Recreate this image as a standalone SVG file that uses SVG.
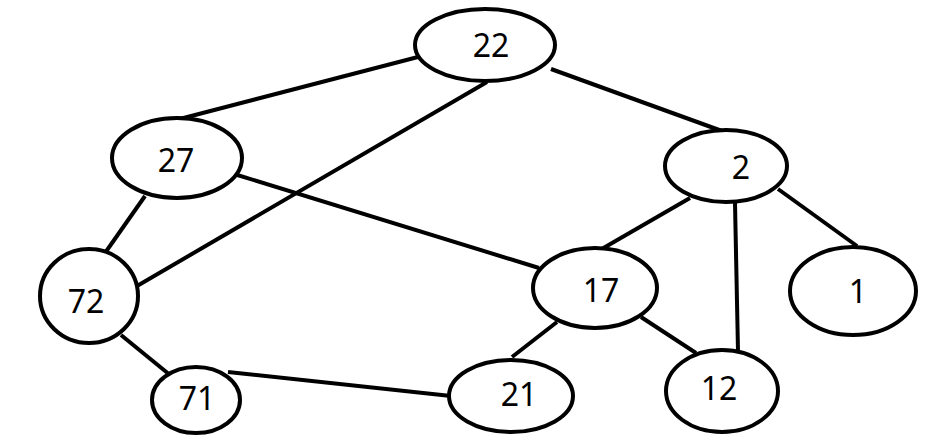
<svg xmlns="http://www.w3.org/2000/svg" width="940" height="440" viewBox="0 0 940 440">
<style>
.n ellipse{fill:#fff;stroke:#000;stroke-width:4}
.n text{font-family:"Noto Sans","Open Sans",sans-serif;font-size:32px;fill:#000;text-anchor:middle}
#edges line{stroke:#000;stroke-width:4}
</style>
<rect width="940" height="440" fill="#fff"/>
<g id="edges">
<line x1="418" y1="57" x2="172" y2="121"/>
<line x1="487" y1="82" x2="137" y2="286"/>
<line x1="551" y1="69" x2="722" y2="131"/>
<line x1="145" y1="196" x2="105" y2="253"/>
<line x1="234" y1="174" x2="539" y2="268"/>
<line x1="690" y1="198" x2="600" y2="250"/>
<line x1="735" y1="203" x2="738" y2="351"/>
<line x1="778" y1="189" x2="857" y2="246"/>
<line x1="557" y1="322" x2="512" y2="357"/>
<line x1="641" y1="317" x2="696" y2="353"/>
<line x1="121" y1="335" x2="170" y2="375"/>
<line x1="228" y1="372" x2="451" y2="396"/>
</g>
<g id="n22" class="n"><ellipse cx="485" cy="45" rx="70" ry="36"/><text x="491" y="57">22</text></g>
<g id="n27" class="n"><ellipse cx="177" cy="158" rx="65" ry="40"/><text x="176" y="172">27</text></g>
<g id="n2" class="n"><ellipse cx="726" cy="166" rx="61" ry="36"/><text x="741" y="179">2</text></g>
<g id="n72" class="n"><ellipse cx="89" cy="296" rx="49" ry="47"/><text x="86" y="313">72</text></g>
<g id="n17" class="n"><ellipse cx="595" cy="288" rx="62" ry="40"/><text x="601" y="302">17</text></g>
<g id="n1" class="n"><ellipse cx="853" cy="291" rx="63" ry="44"/><text x="858" y="303">1</text></g>
<g id="n71" class="n"><ellipse cx="196" cy="400" rx="44" ry="33"/><text x="197" y="410">71</text></g>
<g id="n21" class="n"><ellipse cx="511" cy="396" rx="62" ry="36"/><text x="519" y="406">21</text></g>
<g id="n12" class="n"><ellipse cx="722" cy="391" rx="56" ry="41"/><text x="719" y="400">12</text></g>
</svg>
